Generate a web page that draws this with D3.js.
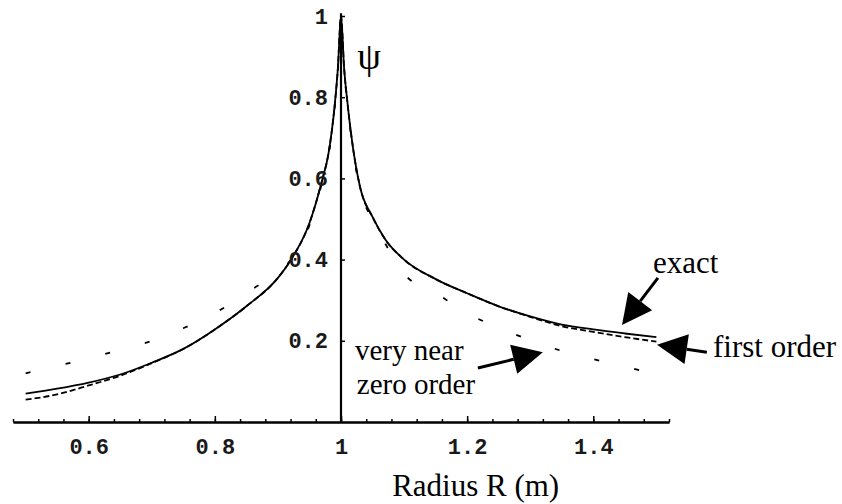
<!DOCTYPE html>
<html><head><meta charset="utf-8">
<script src="https://cdn.jsdelivr.net/npm/d3@7"></script>
<style>html,body{margin:0;padding:0;background:#fff}svg{display:block}</style>
</head><body><svg id="c" width="842" height="504"></svg>
<script>
// ---- data ----
const radius     = [0.5, 0.55, 0.6, 0.65, 0.7, 0.75, 0.8, 0.85, 0.9, 0.92, 0.95, 0.97, 0.98, 0.99, 0.995, 1.0, 1.005, 1.01, 1.02, 1.03, 1.05, 1.07, 1.1, 1.15, 1.2, 1.25, 1.3, 1.35, 1.4, 1.45, 1.5];
const exact      = [0.070, 0.082, 0.097, 0.117, 0.146, 0.180, 0.228, 0.285, 0.355, 0.398, 0.490, 0.595, 0.660, 0.780, 0.870, 1.0, 0.870, 0.790, 0.665, 0.580, 0.505, 0.450, 0.400, 0.352, 0.317, 0.285, 0.260, 0.240, 0.228, 0.218, 0.209];
const firstOrder = [0.055, 0.068, 0.090, 0.114, 0.145, 0.180, 0.228, 0.285, 0.355, 0.398, 0.490, 0.595, 0.660, 0.780, 0.870, 1.0, 0.870, 0.790, 0.665, 0.580, 0.505, 0.450, 0.400, 0.352, 0.317, 0.285, 0.259, 0.236, 0.222, 0.209, 0.198];
const zeroOrder  = [0.120, 0.138, 0.157, 0.178, 0.200, 0.231, 0.268, 0.318, 0.370, 0.398, 0.485, 0.590, 0.655, 0.775, 0.868, 1.0, 0.868, 0.785, 0.660, 0.575, 0.498, 0.440, 0.365, 0.318, 0.268, 0.232, 0.202, 0.175, 0.155, 0.136, 0.118];
const xTickLabels = [0.6, 0.8, 1, 1.2, 1.4];
const yTickLabels = [0.2, 0.4, 0.6, 0.8, 1];

// ---- layout ----
const svg = d3.select("#c");
const x = d3.scaleLinear().domain([0.48, 1.52]).range([13, 669]);
const y = d3.scaleLinear().domain([0, 1]).range([422, 16]);
const tickFont = "'Liberation Mono', 'DejaVu Sans Mono', monospace";
const textFont = "'Liberation Serif', 'Times New Roman', serif";

// curves
const series = [
  {v: exact, dash: null},
  {v: firstOrder, dash: "6,3"},
  {v: zeroOrder, dash: "5,36"}
];
const line = d3.line().curve(d3.curveMonotoneX);
series.forEach(s => {
  svg.append("path")
    .attr("d", line(radius.map((r, i) => [x(r), y(s.v[i])])))
    .attr("fill", "none").attr("stroke", "#000").attr("stroke-width", 1.8)
    .attr("stroke-dasharray", s.dash);
});

// x axis: minor ticks
const minor = d3.range(0.48, 1.5201, 0.04);
const gMinor = svg.append("g").attr("transform", `translate(0,${y(0)})`)
  .call(d3.axisBottom(x).tickValues(minor).tickSizeInner(-3).tickSizeOuter(0).tickFormat(""));
// x axis: major ticks
const gx = svg.append("g").attr("transform", `translate(0,${y(0)})`)
  .call(d3.axisBottom(x).tickValues(xTickLabels).tickSizeInner(-6).tickSizeOuter(0).tickPadding(16).tickFormat(d3.format("")));
[gMinor, gx].forEach(g => {
  g.select(".domain").attr("stroke", "#000").attr("stroke-width", 2);
  g.selectAll(".tick line").attr("stroke", "#000").attr("stroke-width", 1.5);
});
gx.selectAll("text").attr("font-family", tickFont).attr("font-size", 22).attr("font-weight", "bold").attr("fill", "#1a1a1a");

// y axis
const gy = svg.append("g").attr("transform", `translate(${x(1)},0)`)
  .call(d3.axisLeft(y).tickValues(yTickLabels).tickSizeInner(-4).tickSizeOuter(0).tickPadding(13).tickFormat(d3.format("")));
gy.select(".domain").attr("d", `M0,${y(0)}V${y(1.007)}`).attr("stroke", "#000").attr("stroke-width", 2.2);
gy.selectAll(".tick line").attr("stroke", "#000").attr("stroke-width", 1.5);
gy.selectAll("text").attr("font-family", tickFont).attr("font-size", 22).attr("font-weight", "bold").attr("fill", "#1a1a1a");

// axis titles
svg.append("text").attr("x", x(1.0445)).attr("y", y(0.87)).attr("font-family", textFont)
  .attr("font-size", 38).attr("text-anchor", "middle").attr("fill", "#000").text("ψ");
svg.append("text").attr("x", x(1.2135)).attr("y", 496).attr("font-family", textFont)
  .attr("font-size", 31).attr("text-anchor", "middle").text("Radius R (m)");

// annotations (data coordinates)
const labels = [
  {t: "exact", r: 1.4946, p: 0.367, s: 31},
  {t: "first order", r: 1.5897, p: 0.160, s: 31},
  {t: "very near", r: 1.022, p: 0.152, s: 29},
  {t: "zero order", r: 1.025, p: 0.069, s: 29}
];
labels.forEach(l => svg.append("text").attr("x", x(l.r)).attr("y", y(l.p))
  .attr("font-family", textFont).attr("font-size", l.s).text(l.t));

const arrows = [
  {from: [1.5025, 0.355], to: [1.4455, 0.239]},
  {from: [1.580, 0.172], to: [1.501, 0.190]},
  {from: [1.217, 0.133], to: [1.320, 0.172]}
];
arrows.forEach(a => {
  const x0 = x(a.from[0]), y0 = y(a.from[1]), x1 = x(a.to[0]), y1 = y(a.to[1]);
  const ang = Math.atan2(y1 - y0, x1 - x0);
  const hl = 30, hw = 15;
  const bx = x1 - hl * Math.cos(ang), by = y1 - hl * Math.sin(ang);
  const px = -Math.sin(ang) * hw, py = Math.cos(ang) * hw;
  svg.append("line").attr("x1", x0).attr("y1", y0).attr("x2", bx).attr("y2", by)
    .attr("stroke", "#000").attr("stroke-width", 3);
  svg.append("path").attr("d", `M${x1},${y1}L${bx + px},${by + py}L${bx - px},${by - py}Z`).attr("fill", "#000");
});
</script></body></html>
